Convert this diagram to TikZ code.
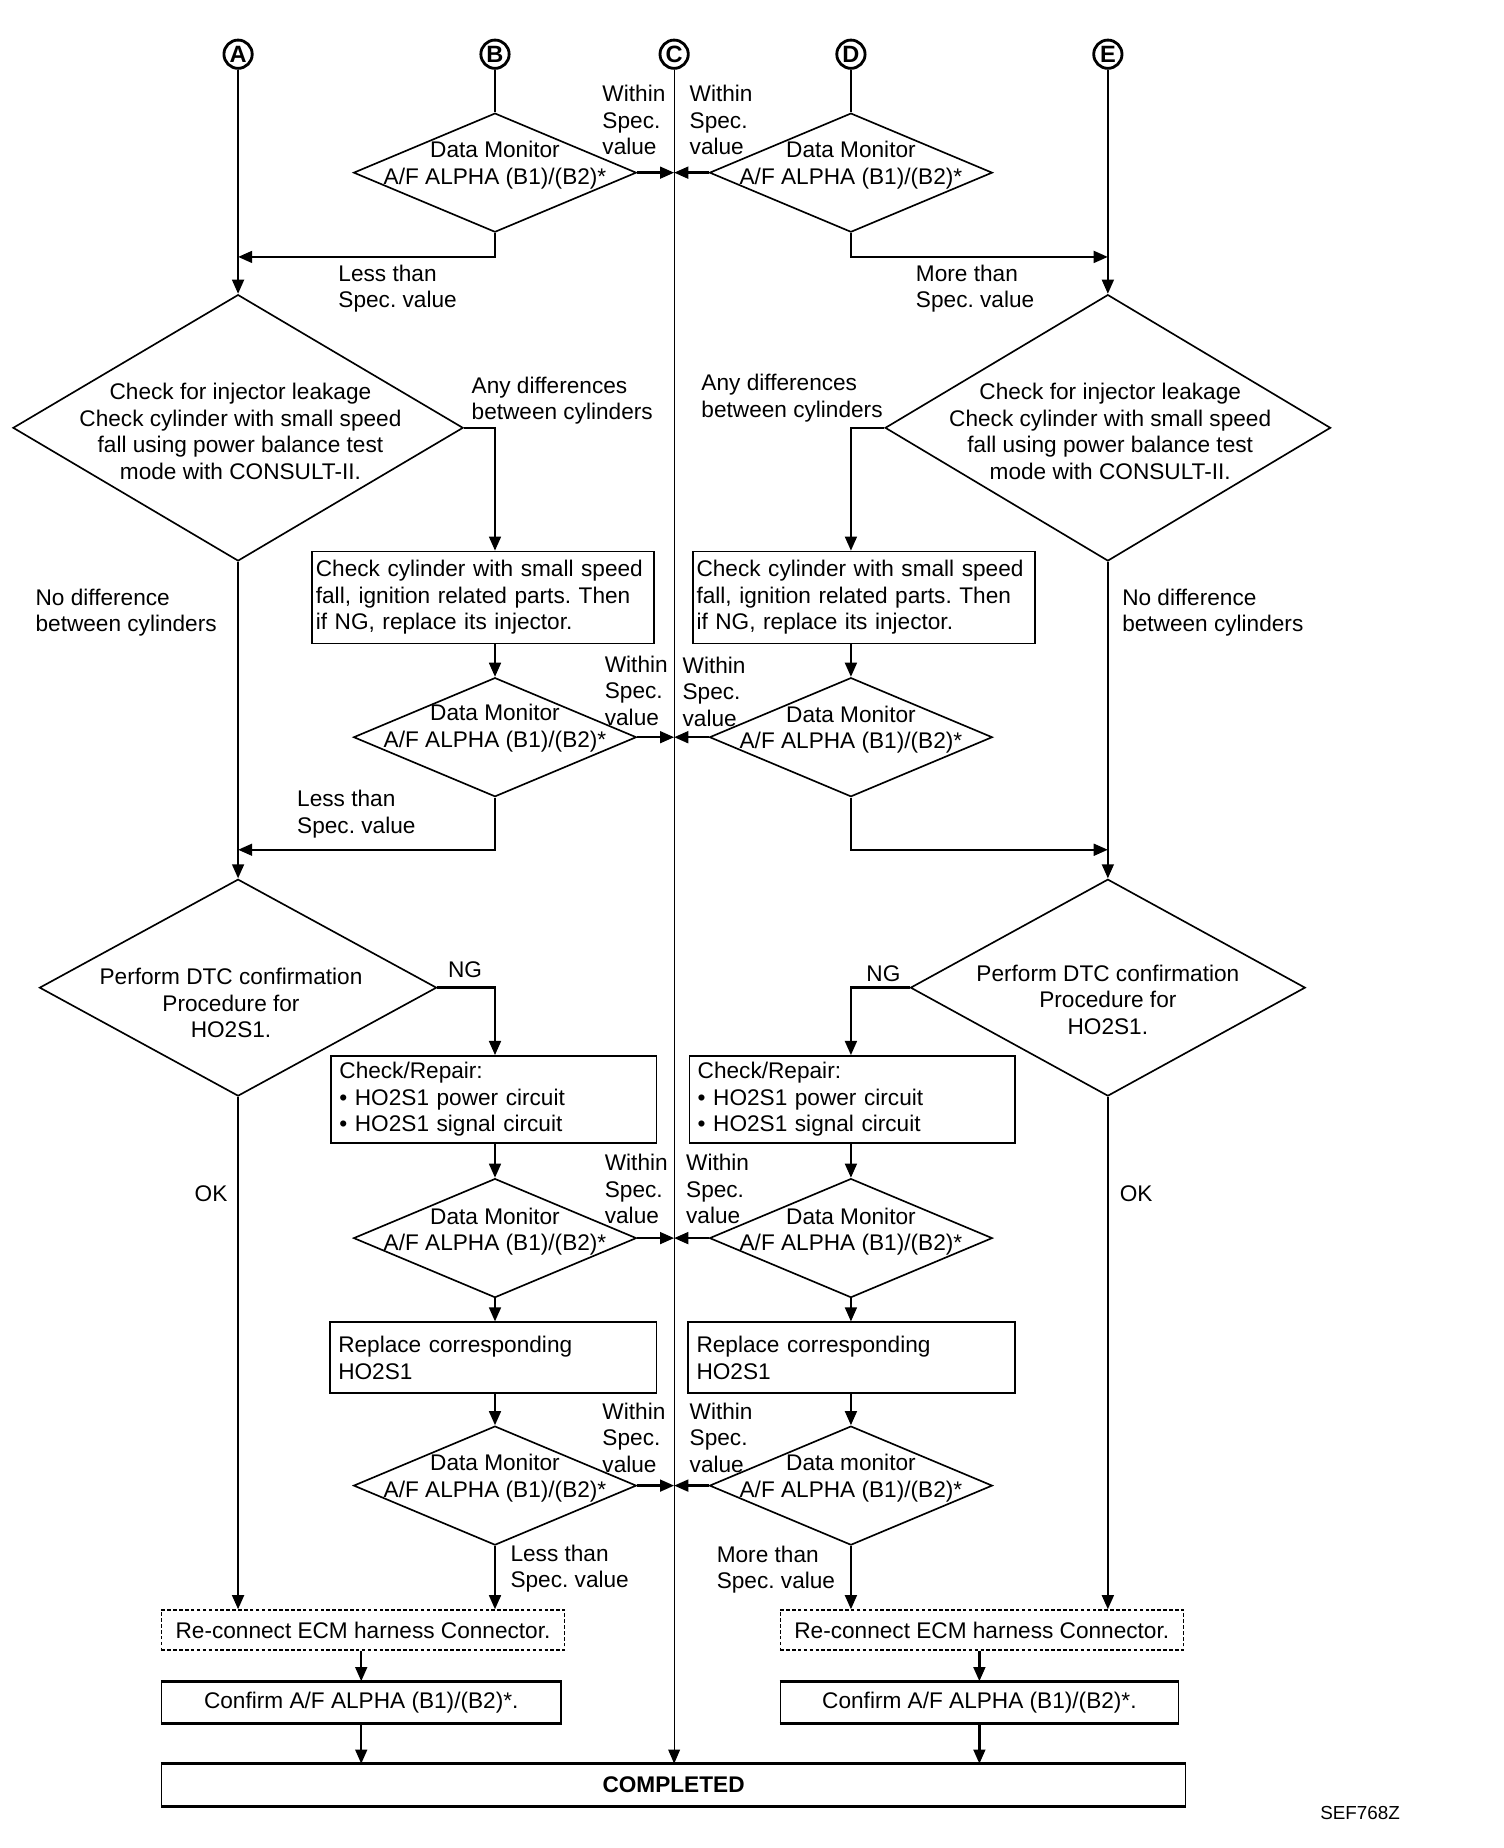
\documentclass[tikz,border=0pt]{standalone}
\usepackage{fontspec}
\setmainfont{Liberation Sans}
\usetikzlibrary{shapes.geometric,arrows.meta}
\frenchspacing
\begin{document}
\begin{tikzpicture}[x=1pt,y=-1pt,
  every node/.style={font=\fontsize{19.2}{22.5}\selectfont},
  ln/.style={line width=2pt},
  flow/.style={line width=2pt,-{Triangle[length=12pt,width=10pt]}},
  thinflow/.style={line width=1.1pt,-{Triangle[length=12pt,width=10pt]}},
  dia/.style={draw,diamond,line width=1.4pt,inner sep=0pt},
  box/.style={draw,rectangle,line width=1.5pt,inner xsep=7pt,inner ysep=0pt,align=left},
  cbox/.style={draw,rectangle,line width=1.1pt,inner sep=0pt,align=center},
  txt/.style={align=center,inner sep=0pt},
  lbl/.style={anchor=west,align=left,inner sep=0pt},
  circ/.style={circle,draw,line width=2.4pt,minimum size=24pt,inner sep=0pt,font=\bfseries\fontsize{20}{20}\selectfont}]
\useasboundingbox (0,0) rectangle (1276,1568);
% circled connectors
\node[circ] (cA) at (202,46) {A};
\node[circ] (cB) at (420,46) {B};
\node[circ] (cC) at (572,46) {C};
\node[circ] (cD) at (722,46) {D};
\node[circ] (cE) at (940,46) {E};
% top diamonds
\node[dia,minimum width=240pt,minimum height=101pt] (d1L) at (420,146.5) {};
\node[txt] (t1L) at (420,140) {Data Monitor\\A/F ALPHA (B1)/(B2)*};
\node[dia,minimum width=240pt,minimum height=101pt] (d1R) at (722,146.5) {};
\node[txt] (t1R) at (722,140) {Data Monitor\\A/F ALPHA (B1)/(B2)*};
% big diamonds
\node[dia,minimum width=382pt,minimum height=226pt] (d2L) at (202,363) {};
\node[txt] (t2L) at (204,366) {Check for injector leakage\\Check cylinder with small speed\\fall using power balance test\\mode with CONSULT-II.};
\node[dia,minimum width=378pt,minimum height=226pt] (d2R) at (940,363) {};
\node[txt] (t2R) at (942,366) {Check for injector leakage\\Check cylinder with small speed\\fall using power balance test\\mode with CONSULT-II.};
% first boxes
\node[box,inner xsep=3pt,minimum width=290pt,minimum height=78pt,text width=284pt] (b1L) at (410,507) {Check cylinder with small speed\\fall, ignition related parts. Then\\if NG, replace its injector.};
\node[box,inner xsep=3pt,minimum width=290pt,minimum height=78pt,text width=284pt] (b1R) at (733,507) {Check cylinder with small speed\\fall, ignition related parts. Then\\if NG, replace its injector.};
% second data monitor diamonds
\node[dia,minimum width=240pt,minimum height=101pt] (d3L) at (420,625.5) {};
\node[txt] (t3L) at (420,618) {Data Monitor\\A/F ALPHA (B1)/(B2)*};
\node[dia,minimum width=240pt,minimum height=101pt] (d3R) at (722,625.5) {};
\node[txt] (t3R) at (722,619) {Data Monitor\\A/F ALPHA (B1)/(B2)*};
% DTC diamonds
\node[dia,minimum width=337pt,minimum height=184pt] (d4L) at (202,838) {};
\node[txt] (t4L) at (196,851) {Perform DTC confirmation\\Procedure for\\HO2S1.};
\node[dia,minimum width=335pt,minimum height=184pt] (d4R) at (940,838) {};
\node[txt] (t4R) at (940,848) {Perform DTC confirmation\\Procedure for\\HO2S1.};
% check/repair boxes
\node[box,minimum width=276pt,minimum height=74pt,text width=262pt] (b2L) at (419,933) {Check/Repair:\\\textbullet\ HO2S1 power circuit\\\textbullet\ HO2S1 signal circuit};
\node[box,minimum width=276pt,minimum height=74pt,text width=262pt] (b2R) at (723,933) {Check/Repair:\\\textbullet\ HO2S1 power circuit\\\textbullet\ HO2S1 signal circuit};
% third data monitor diamonds
\node[dia,minimum width=240pt,minimum height=101pt] (d5L) at (420,1050.5) {};
\node[txt] (t5L) at (420,1045) {Data Monitor\\A/F ALPHA (B1)/(B2)*};
\node[dia,minimum width=240pt,minimum height=101pt] (d5R) at (722,1050.5) {};
\node[txt] (t5R) at (722,1045) {Data Monitor\\A/F ALPHA (B1)/(B2)*};
% replace boxes
\node[box,minimum width=277pt,minimum height=60pt,text width=263pt] (b3L) at (418.5,1152) {Replace corresponding\\HO2S1};
\node[box,minimum width=277pt,minimum height=60pt,text width=263pt] (b3R) at (722.5,1152) {Replace corresponding\\HO2S1};
% fourth data monitor diamonds
\node[dia,minimum width=240pt,minimum height=101pt] (d6L) at (420,1260.5) {};
\node[txt] (t6L) at (420,1254) {Data Monitor\\A/F ALPHA (B1)/(B2)*};
\node[dia,minimum width=240pt,minimum height=101pt] (d6R) at (722,1260.5) {};
\node[txt] (t6R) at (722,1254) {Data monitor\\A/F ALPHA (B1)/(B2)*};
% bottom boxes
\node[cbox,dashed,dash pattern=on 3pt off 2pt,minimum width=342pt,minimum height=34pt] (recL) at (308,1383) {Re-connect ECM harness Connector.};
\node[cbox,dashed,dash pattern=on 3pt off 2pt,minimum width=342pt,minimum height=34pt] (recR) at (833,1383) {Re-connect ECM harness Connector.};
\node[cbox,minimum width=339pt,minimum height=35pt] (confL) at (306.5,1444.5) {Confirm A/F ALPHA (B1)/(B2)*.};
\node[cbox,minimum width=338pt,minimum height=35pt] (confR) at (831,1444.5) {Confirm A/F ALPHA (B1)/(B2)*.};
\node[cbox,minimum width=869pt,minimum height=35pt,font=\bfseries\fontsize{19.2}{22.5}\selectfont] (done) at (571.5,1514.5) {COMPLETED};
\draw[line width=2.6pt] (confL.north west) -- (confL.north east) (confL.south west) -- (confL.south east);
\draw[line width=2.6pt] (confR.north west) -- (confR.north east) (confR.south west) -- (confR.south east);
\draw[line width=2.6pt] (done.north west) -- (done.north east) (done.south west) -- (done.south east);
% junction coordinates
\coordinate (j1L) at (202,218);
\coordinate (j1R) at (940,218);
\coordinate (j2L) at (202,721);
\coordinate (j2R) at (940,721);
% connectors
\draw[ln] (cB) -- (d1L.north);
\draw[line width=1.1pt] (cD) -- (d1R.north);
\draw[thinflow] (cC) -- (cC |- done.north);
\draw[flow] (cA) -- (d2L.north);
\draw[flow] (cE) -- (d2R.north);
\draw[flow] (d1L.east) -- (d1L.east -| cC);
\draw[flow] (d1R.west) -- (d1R.west -| cC);
\draw[flow] (d1L.south) |- (j1L);
\draw[flow] (d1R.south) |- (j1R);
\draw[flow] (d2L.east) -| (b1L.north -| d3L.north);
\draw[flow] (d2R.west) -| (b1R.north -| d3R.north);
\draw[flow] (b1L.south -| d3L.north) -- (d3L.north);
\draw[flow] (b1R.south -| d3R.north) -- (d3R.north);
\draw[flow] (d3L.east) -- (d3L.east -| cC);
\draw[flow] (d3R.west) -- (d3R.west -| cC);
\draw[flow] (d3L.south) |- (j2L);
\draw[flow] (d3R.south) |- (j2R);
\draw[flow] (d2L.south) -- (d4L.north);
\draw[flow] (d2R.south) -- (d4R.north);
\draw[flow] (d4L.east) -| (b2L.north -| d5L.north);
\draw[flow] (d4R.west) -| (b2R.north -| d5R.north);
\draw[flow] (b2L.south -| d5L.north) -- (d5L.north);
\draw[flow] (b2R.south -| d5R.north) -- (d5R.north);
\draw[flow] (d5L.east) -- (d5L.east -| cC);
\draw[flow] (d5R.west) -- (d5R.west -| cC);
\draw[flow] (d5L.south) -- (d5L.south |- b3L.north);
\draw[flow] (d5R.south) -- (d5R.south |- b3R.north);
\draw[flow] (b3L.south -| d6L.north) -- (d6L.north);
\draw[flow] (b3R.south -| d6R.north) -- (d6R.north);
\draw[flow] (d6L.east) -- (d6L.east -| cC);
\draw[flow] (d6R.west) -- (d6R.west -| cC);
\draw[flow] (d6L.south) -- (d6L.south |- recL.north);
\draw[flow] (d6R.south) -- (d6R.south |- recR.north);
\draw[flow] (d4L.south) -- (d4L.south |- recL.north);
\draw[flow] (d4R.south) -- (d4R.south |- recR.north);
\draw[flow] (recL.south -| confL.north) -- (confL.north);
\draw[flow] (recR.south -| confR.north) -- (confR.north);
\draw[flow] (confL.south) -- (confL.south |- done.north);
\draw[flow] (confR.south) -- (confR.south |- done.north);
% labels
\node[lbl] (w1L) at (511,102) {Within\\Spec.\\value};
\node[lbl] (w1R) at (585,102) {Within\\Spec.\\value};
\node[lbl] (w3L) at (513,586) {Within\\Spec.\\value};
\node[lbl] (w3R) at (579,587) {Within\\Spec.\\value};
\node[lbl] (w5L) at (513,1009) {Within\\Spec.\\value};
\node[lbl] (w5R) at (582,1009) {Within\\Spec.\\value};
\node[lbl] (w6L) at (511,1220) {Within\\Spec.\\value};
\node[lbl] (w6R) at (585,1220) {Within\\Spec.\\value};
\node[lbl] (l1L) at (287,245) {Less than\\Spec. value};
\node[lbl] (l1R) at (777,245) {More than\\Spec. value};
\node[lbl] (a2L) at (400,340) {Any differences\\between cylinders};
\node[lbl] (a2R) at (595,338) {Any differences\\between cylinders};
\node[lbl] (n2L) at (30,520) {No difference\\between cylinders};
\node[lbl] (n2R) at (952,520) {No difference\\between cylinders};
\node[lbl] (l3L) at (252,691) {Less than\\Spec. value};
\node[lbl] (ngL) at (380,823) {NG};
\node[lbl] (ngR) at (735,826) {NG};
\node[lbl] (okL) at (165,1013) {OK};
\node[lbl] (okR) at (950,1013) {OK};
\node[lbl] (l6L) at (433,1331) {Less than\\Spec. value};
\node[lbl] (l6R) at (608,1332) {More than\\Spec. value};
\node[lbl,font=\fontsize{16}{18}\selectfont] (ref) at (1120,1538) {SEF768Z};
\end{tikzpicture}
\end{document}
